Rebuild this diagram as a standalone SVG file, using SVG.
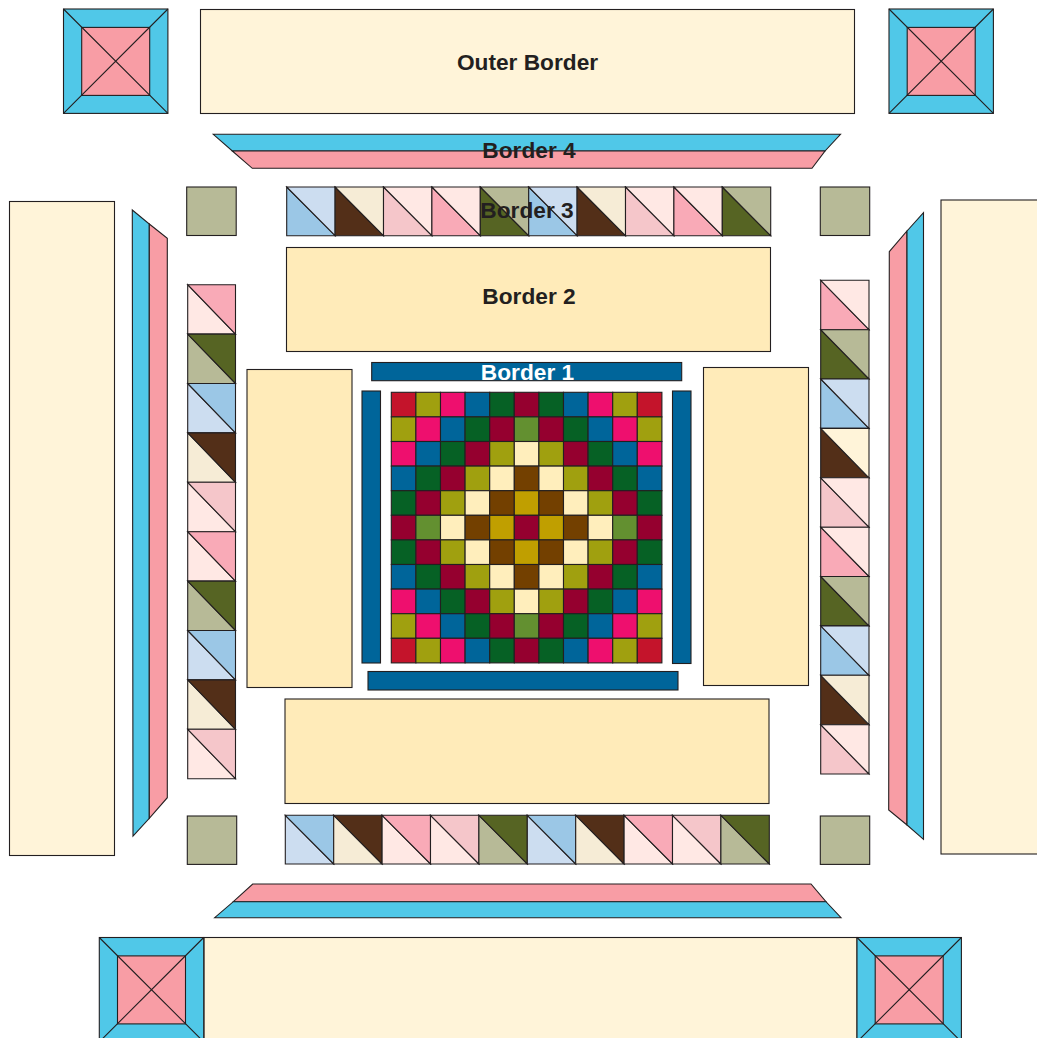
<svg xmlns="http://www.w3.org/2000/svg" width="1037" height="1038" viewBox="0 0 1037 1038">
<style>
*{stroke:#231f20;stroke-width:1.1}
text{stroke:none;font-family:"Liberation Sans",Arial,sans-serif;font-weight:bold;font-size:22.7px;fill:#231f20;text-anchor:middle}
.wt{fill:#fff}
.o{fill:#fff4d9}.b2{fill:#ffebb9}.b1{fill:#00659a}.c{fill:#50c8e8}.p{fill:#f89da5}.s{fill:#b7ba97}
.R{fill:#c4142b}.O{fill:#a0a00f}.M{fill:#ee0f6e}.B{fill:#00659a}.G{fill:#066125}.D{fill:#95002f}.L{fill:#639030}.C{fill:#ffeebc}.W{fill:#734000}.Y{fill:#c09f00}
.a1{fill:#9bc7e6}.a2{fill:#ccddf0}.b3{fill:#532f18}.b4{fill:#f6ecd6}.c1{fill:#f5c6ca}.c2{fill:#ffe8e4}.d1{fill:#f9aab7}.e1{fill:#566423}.e2{fill:#b7ba97}.f2{fill:#fff4d9}
</style>
<defs>
<g id="block"><rect class="c" width="104.4" height="104.4"/><rect class="p" x="18.2" y="18.4" width="68" height="68"/><path d="M0 0L104.4 104.4M104.4 0L0 104.4" fill="none"/></g>
</defs>
<g id="outer-border">
<rect class="o" x="200.5" y="9.5" width="654" height="104"/>
<rect class="o" x="9.5" y="201.5" width="105" height="654"/>
<rect class="o" x="941" y="200" width="100" height="654"/>
<rect class="o" x="204" y="937.5" width="653" height="104"/>
<use href="#block" x="63.5" y="9"/>
<use href="#block" x="889" y="9"/>
<use href="#block" x="99.3" y="937.5"/>
<use href="#block" x="857" y="937.5"/>
<text x="527.5" y="70">Outer Border</text>
</g>
<g id="border-4">
<path class="c" d="M213.3 134.3H840.5L825 151H232.3Z"/><path class="p" d="M232.3 151H825L812 168.3H252.3Z"/>
<path class="p" d="M252.7 884H811L826 901.7H233.3Z"/><path class="c" d="M233.3 901.7H826L841 917.7H214.7Z"/>
<path class="c" d="M132.3 210L149.3 224V818.3L133 836Z"/><path class="p" d="M149.3 224L167.3 238.3V797.7L149.3 818.3Z"/>
<path class="p" d="M889.3 251.7L907 231V825L888.7 810Z"/><path class="c" d="M907 231L923.5 212.7V839.3L907 825Z"/>
<text x="529" y="158">Border 4</text>
</g>
<g id="border-3">
<rect class="s" x="186.7" y="187" width="49.5" height="48.5"/><rect class="s" x="820.3" y="187" width="49.4" height="48.5"/>
<rect class="s" x="187.3" y="816" width="49.4" height="48.4"/><rect class="s" x="820.3" y="816" width="49.4" height="48.4"/>
<g id="strip-top">
<path class="a1" d="M286.7 187L335.1 235.7H286.7Z"/><path class="a2" d="M286.7 187H335.1V235.7Z"/>
<path class="b3" d="M335.1 187L383.5 235.7H335.1Z"/><path class="b4" d="M335.1 187H383.5V235.7Z"/>
<path class="c1" d="M383.5 187L431.9 235.7H383.5Z"/><path class="c2" d="M383.5 187H431.9V235.7Z"/>
<path class="d1" d="M431.9 187L480.3 235.7H431.9Z"/><path class="c2" d="M431.9 187H480.3V235.7Z"/>
<path class="e1" d="M480.3 187L528.7 235.7H480.3Z"/><path class="e2" d="M480.3 187H528.7V235.7Z"/>
<path class="a1" d="M528.7 187L577.1 235.7H528.7Z"/><path class="a2" d="M528.7 187H577.1V235.7Z"/>
<path class="b3" d="M577.1 187L625.5 235.7H577.1Z"/><path class="b4" d="M577.1 187H625.5V235.7Z"/>
<path class="c1" d="M625.5 187L673.9 235.7H625.5Z"/><path class="c2" d="M625.5 187H673.9V235.7Z"/>
<path class="d1" d="M673.9 187L722.3 235.7H673.9Z"/><path class="c2" d="M673.9 187H722.3V235.7Z"/>
<path class="e1" d="M722.3 187L770.7 235.7H722.3Z"/><path class="e2" d="M722.3 187H770.7V235.7Z"/>
</g>
<g id="strip-bottom">
<path class="a2" d="M285.3 815.3L333.7 864H285.3Z"/><path class="a1" d="M285.3 815.3H333.7V864Z"/>
<path class="b4" d="M333.7 815.3L382.1 864H333.7Z"/><path class="b3" d="M333.7 815.3H382.1V864Z"/>
<path class="c2" d="M382.1 815.3L430.5 864H382.1Z"/><path class="d1" d="M382.1 815.3H430.5V864Z"/>
<path class="c2" d="M430.5 815.3L478.9 864H430.5Z"/><path class="c1" d="M430.5 815.3H478.9V864Z"/>
<path class="e2" d="M478.9 815.3L527.3 864H478.9Z"/><path class="e1" d="M478.9 815.3H527.3V864Z"/>
<path class="a2" d="M527.3 815.3L575.7 864H527.3Z"/><path class="a1" d="M527.3 815.3H575.7V864Z"/>
<path class="b4" d="M575.7 815.3L624.1 864H575.7Z"/><path class="b3" d="M575.7 815.3H624.1V864Z"/>
<path class="c2" d="M624.1 815.3L672.5 864H624.1Z"/><path class="d1" d="M624.1 815.3H672.5V864Z"/>
<path class="c2" d="M672.5 815.3L720.9 864H672.5Z"/><path class="c1" d="M672.5 815.3H720.9V864Z"/>
<path class="e2" d="M720.9 815.3L769.3 864H720.9Z"/><path class="e1" d="M720.9 815.3H769.3V864Z"/>
</g>
<g id="strip-left">
<path class="c2" d="M187.7 284.7L235.5 334.1H187.7Z"/><path class="d1" d="M187.7 284.7H235.5V334.1Z"/>
<path class="e2" d="M187.7 334.1L235.5 383.5H187.7Z"/><path class="e1" d="M187.7 334.1H235.5V383.5Z"/>
<path class="a2" d="M187.7 383.5L235.5 432.9H187.7Z"/><path class="a1" d="M187.7 383.5H235.5V432.9Z"/>
<path class="b4" d="M187.7 432.9L235.5 482.3H187.7Z"/><path class="b3" d="M187.7 432.9H235.5V482.3Z"/>
<path class="c2" d="M187.7 482.3L235.5 531.7H187.7Z"/><path class="c1" d="M187.7 482.3H235.5V531.7Z"/>
<path class="c2" d="M187.7 531.7L235.5 581.1H187.7Z"/><path class="d1" d="M187.7 531.7H235.5V581.1Z"/>
<path class="e2" d="M187.7 581.1L235.5 630.5H187.7Z"/><path class="e1" d="M187.7 581.1H235.5V630.5Z"/>
<path class="a2" d="M187.7 630.5L235.5 679.9H187.7Z"/><path class="a1" d="M187.7 630.5H235.5V679.9Z"/>
<path class="b4" d="M187.7 679.9L235.5 729.3H187.7Z"/><path class="b3" d="M187.7 679.9H235.5V729.3Z"/>
<path class="c2" d="M187.7 729.3L235.5 778.7H187.7Z"/><path class="c1" d="M187.7 729.3H235.5V778.7Z"/>
</g>
<g id="strip-right">
<path class="d1" d="M820.7 280.3L869 329.7H820.7Z"/><path class="c2" d="M820.7 280.3H869V329.7Z"/>
<path class="e1" d="M820.7 329.7L869 379H820.7Z"/><path class="e2" d="M820.7 329.7H869V379Z"/>
<path class="a1" d="M820.7 379L869 428.4H820.7Z"/><path class="a2" d="M820.7 379H869V428.4Z"/>
<path class="b3" d="M820.7 428.4L869 477.8H820.7Z"/><path class="f2" d="M820.7 428.4H869V477.8Z"/>
<path class="c1" d="M820.7 477.8L869 527.2H820.7Z"/><path class="c2" d="M820.7 477.8H869V527.2Z"/>
<path class="d1" d="M820.7 527.2L869 576.5H820.7Z"/><path class="c2" d="M820.7 527.2H869V576.5Z"/>
<path class="e1" d="M820.7 576.5L869 625.9H820.7Z"/><path class="e2" d="M820.7 576.5H869V625.9Z"/>
<path class="a1" d="M820.7 625.9L869 675.3H820.7Z"/><path class="a2" d="M820.7 625.9H869V675.3Z"/>
<path class="b3" d="M820.7 675.3L869 724.7H820.7Z"/><path class="b4" d="M820.7 675.3H869V724.7Z"/>
<path class="c1" d="M820.7 724.7L869 774H820.7Z"/><path class="c2" d="M820.7 724.7H869V774Z"/>
</g>
<text x="527" y="218">Border 3</text>
</g>
<g id="border-2">
<rect class="b2" x="286.5" y="247.5" width="484" height="104"/>
<rect class="b2" x="285" y="699" width="484" height="104.5"/>
<rect class="b2" x="247" y="369.5" width="105" height="318"/>
<rect class="b2" x="703.5" y="367.5" width="105" height="318"/>
<text x="529" y="304">Border 2</text>
</g>
<g id="border-1">
<rect class="b1" x="371.7" y="362.5" width="310" height="18.2"/>
<rect class="b1" x="368" y="671.5" width="310" height="18.5"/>
<rect class="b1" x="362" y="391" width="18.5" height="272"/>
<rect class="b1" x="672.5" y="391" width="18.5" height="272.5"/>
<text class="wt" x="527.5" y="380">Border 1</text>
</g>
<g id="center-block">
<g id="r1"><rect class="R" x="391.3" y="392.3" width="24.6" height="24.6"/><rect class="O" x="415.9" y="392.3" width="24.6" height="24.6"/><rect class="M" x="440.5" y="392.3" width="24.6" height="24.6"/><rect class="B" x="465.1" y="392.3" width="24.6" height="24.6"/><rect class="G" x="489.7" y="392.3" width="24.6" height="24.6"/><rect class="D" x="514.3" y="392.3" width="24.6" height="24.6"/><rect class="G" x="538.9" y="392.3" width="24.6" height="24.6"/><rect class="B" x="563.5" y="392.3" width="24.6" height="24.6"/><rect class="M" x="588.1" y="392.3" width="24.6" height="24.6"/><rect class="O" x="612.7" y="392.3" width="24.6" height="24.6"/><rect class="R" x="637.3" y="392.3" width="24.6" height="24.6"/></g>
<g id="r2"><rect class="O" x="391.3" y="416.9" width="24.6" height="24.6"/><rect class="M" x="415.9" y="416.9" width="24.6" height="24.6"/><rect class="B" x="440.5" y="416.9" width="24.6" height="24.6"/><rect class="G" x="465.1" y="416.9" width="24.6" height="24.6"/><rect class="D" x="489.7" y="416.9" width="24.6" height="24.6"/><rect class="L" x="514.3" y="416.9" width="24.6" height="24.6"/><rect class="D" x="538.9" y="416.9" width="24.6" height="24.6"/><rect class="G" x="563.5" y="416.9" width="24.6" height="24.6"/><rect class="B" x="588.1" y="416.9" width="24.6" height="24.6"/><rect class="M" x="612.7" y="416.9" width="24.6" height="24.6"/><rect class="O" x="637.3" y="416.9" width="24.6" height="24.6"/></g>
<g id="r3"><rect class="M" x="391.3" y="441.5" width="24.6" height="24.6"/><rect class="B" x="415.9" y="441.5" width="24.6" height="24.6"/><rect class="G" x="440.5" y="441.5" width="24.6" height="24.6"/><rect class="D" x="465.1" y="441.5" width="24.6" height="24.6"/><rect class="O" x="489.7" y="441.5" width="24.6" height="24.6"/><rect class="C" x="514.3" y="441.5" width="24.6" height="24.6"/><rect class="O" x="538.9" y="441.5" width="24.6" height="24.6"/><rect class="D" x="563.5" y="441.5" width="24.6" height="24.6"/><rect class="G" x="588.1" y="441.5" width="24.6" height="24.6"/><rect class="B" x="612.7" y="441.5" width="24.6" height="24.6"/><rect class="M" x="637.3" y="441.5" width="24.6" height="24.6"/></g>
<g id="r4"><rect class="B" x="391.3" y="466.1" width="24.6" height="24.6"/><rect class="G" x="415.9" y="466.1" width="24.6" height="24.6"/><rect class="D" x="440.5" y="466.1" width="24.6" height="24.6"/><rect class="O" x="465.1" y="466.1" width="24.6" height="24.6"/><rect class="C" x="489.7" y="466.1" width="24.6" height="24.6"/><rect class="W" x="514.3" y="466.1" width="24.6" height="24.6"/><rect class="C" x="538.9" y="466.1" width="24.6" height="24.6"/><rect class="O" x="563.5" y="466.1" width="24.6" height="24.6"/><rect class="D" x="588.1" y="466.1" width="24.6" height="24.6"/><rect class="G" x="612.7" y="466.1" width="24.6" height="24.6"/><rect class="B" x="637.3" y="466.1" width="24.6" height="24.6"/></g>
<g id="r5"><rect class="G" x="391.3" y="490.7" width="24.6" height="24.6"/><rect class="D" x="415.9" y="490.7" width="24.6" height="24.6"/><rect class="O" x="440.5" y="490.7" width="24.6" height="24.6"/><rect class="C" x="465.1" y="490.7" width="24.6" height="24.6"/><rect class="W" x="489.7" y="490.7" width="24.6" height="24.6"/><rect class="Y" x="514.3" y="490.7" width="24.6" height="24.6"/><rect class="W" x="538.9" y="490.7" width="24.6" height="24.6"/><rect class="C" x="563.5" y="490.7" width="24.6" height="24.6"/><rect class="O" x="588.1" y="490.7" width="24.6" height="24.6"/><rect class="D" x="612.7" y="490.7" width="24.6" height="24.6"/><rect class="G" x="637.3" y="490.7" width="24.6" height="24.6"/></g>
<g id="r6"><rect class="D" x="391.3" y="515.3" width="24.6" height="24.6"/><rect class="L" x="415.9" y="515.3" width="24.6" height="24.6"/><rect class="C" x="440.5" y="515.3" width="24.6" height="24.6"/><rect class="W" x="465.1" y="515.3" width="24.6" height="24.6"/><rect class="Y" x="489.7" y="515.3" width="24.6" height="24.6"/><rect class="D" x="514.3" y="515.3" width="24.6" height="24.6"/><rect class="Y" x="538.9" y="515.3" width="24.6" height="24.6"/><rect class="W" x="563.5" y="515.3" width="24.6" height="24.6"/><rect class="C" x="588.1" y="515.3" width="24.6" height="24.6"/><rect class="L" x="612.7" y="515.3" width="24.6" height="24.6"/><rect class="D" x="637.3" y="515.3" width="24.6" height="24.6"/></g>
<g id="r7"><rect class="G" x="391.3" y="539.9" width="24.6" height="24.6"/><rect class="D" x="415.9" y="539.9" width="24.6" height="24.6"/><rect class="O" x="440.5" y="539.9" width="24.6" height="24.6"/><rect class="C" x="465.1" y="539.9" width="24.6" height="24.6"/><rect class="W" x="489.7" y="539.9" width="24.6" height="24.6"/><rect class="Y" x="514.3" y="539.9" width="24.6" height="24.6"/><rect class="W" x="538.9" y="539.9" width="24.6" height="24.6"/><rect class="C" x="563.5" y="539.9" width="24.6" height="24.6"/><rect class="O" x="588.1" y="539.9" width="24.6" height="24.6"/><rect class="D" x="612.7" y="539.9" width="24.6" height="24.6"/><rect class="G" x="637.3" y="539.9" width="24.6" height="24.6"/></g>
<g id="r8"><rect class="B" x="391.3" y="564.5" width="24.6" height="24.6"/><rect class="G" x="415.9" y="564.5" width="24.6" height="24.6"/><rect class="D" x="440.5" y="564.5" width="24.6" height="24.6"/><rect class="O" x="465.1" y="564.5" width="24.6" height="24.6"/><rect class="C" x="489.7" y="564.5" width="24.6" height="24.6"/><rect class="W" x="514.3" y="564.5" width="24.6" height="24.6"/><rect class="C" x="538.9" y="564.5" width="24.6" height="24.6"/><rect class="O" x="563.5" y="564.5" width="24.6" height="24.6"/><rect class="D" x="588.1" y="564.5" width="24.6" height="24.6"/><rect class="G" x="612.7" y="564.5" width="24.6" height="24.6"/><rect class="B" x="637.3" y="564.5" width="24.6" height="24.6"/></g>
<g id="r9"><rect class="M" x="391.3" y="589.1" width="24.6" height="24.6"/><rect class="B" x="415.9" y="589.1" width="24.6" height="24.6"/><rect class="G" x="440.5" y="589.1" width="24.6" height="24.6"/><rect class="D" x="465.1" y="589.1" width="24.6" height="24.6"/><rect class="O" x="489.7" y="589.1" width="24.6" height="24.6"/><rect class="C" x="514.3" y="589.1" width="24.6" height="24.6"/><rect class="O" x="538.9" y="589.1" width="24.6" height="24.6"/><rect class="D" x="563.5" y="589.1" width="24.6" height="24.6"/><rect class="G" x="588.1" y="589.1" width="24.6" height="24.6"/><rect class="B" x="612.7" y="589.1" width="24.6" height="24.6"/><rect class="M" x="637.3" y="589.1" width="24.6" height="24.6"/></g>
<g id="r10"><rect class="O" x="391.3" y="613.7" width="24.6" height="24.6"/><rect class="M" x="415.9" y="613.7" width="24.6" height="24.6"/><rect class="B" x="440.5" y="613.7" width="24.6" height="24.6"/><rect class="G" x="465.1" y="613.7" width="24.6" height="24.6"/><rect class="D" x="489.7" y="613.7" width="24.6" height="24.6"/><rect class="L" x="514.3" y="613.7" width="24.6" height="24.6"/><rect class="D" x="538.9" y="613.7" width="24.6" height="24.6"/><rect class="G" x="563.5" y="613.7" width="24.6" height="24.6"/><rect class="B" x="588.1" y="613.7" width="24.6" height="24.6"/><rect class="M" x="612.7" y="613.7" width="24.6" height="24.6"/><rect class="O" x="637.3" y="613.7" width="24.6" height="24.6"/></g>
<g id="r11"><rect class="R" x="391.3" y="638.3" width="24.6" height="24.6"/><rect class="O" x="415.9" y="638.3" width="24.6" height="24.6"/><rect class="M" x="440.5" y="638.3" width="24.6" height="24.6"/><rect class="B" x="465.1" y="638.3" width="24.6" height="24.6"/><rect class="G" x="489.7" y="638.3" width="24.6" height="24.6"/><rect class="D" x="514.3" y="638.3" width="24.6" height="24.6"/><rect class="G" x="538.9" y="638.3" width="24.6" height="24.6"/><rect class="B" x="563.5" y="638.3" width="24.6" height="24.6"/><rect class="M" x="588.1" y="638.3" width="24.6" height="24.6"/><rect class="O" x="612.7" y="638.3" width="24.6" height="24.6"/><rect class="R" x="637.3" y="638.3" width="24.6" height="24.6"/></g>
</g>
</svg>
